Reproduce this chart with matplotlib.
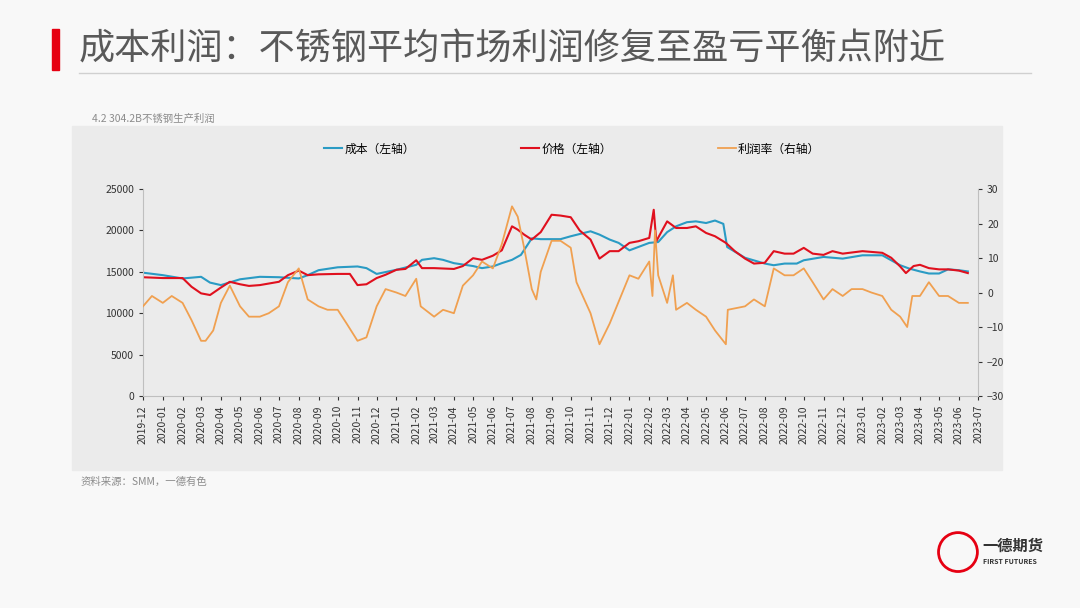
import matplotlib
matplotlib.use("Agg")
import matplotlib.pyplot as plt
import matplotlib.dates as mdates
import pandas as pd
from matplotlib.patches import Rectangle, Ellipse

plt.rcParams["font.family"] = ["Noto Sans CJK SC", "DejaVu Sans"]

cost_dates = ["2019-12-01", "2020-01-01", "2020-02-01", "2020-03-01", "2020-03-15", "2020-04-01",
              "2020-05-01", "2020-06-01", "2020-07-01", "2020-08-01", "2020-08-15", "2020-09-01",
              "2020-10-01", "2020-11-01", "2020-11-15", "2020-12-01", "2021-01-01", "2021-02-01",
              "2021-02-10", "2021-03-01", "2021-03-15", "2021-04-01", "2021-05-01", "2021-05-15",
              "2021-06-01", "2021-06-15", "2021-07-01", "2021-07-15", "2021-08-01", "2021-08-15",
              "2021-09-01", "2021-09-15", "2021-10-01", "2021-11-01", "2021-11-15", "2021-12-01",
              "2021-12-15", "2022-01-01", "2022-02-01", "2022-02-15", "2022-03-01", "2022-03-15",
              "2022-04-01", "2022-04-15", "2022-05-01", "2022-05-15", "2022-05-28", "2022-06-03",
              "2022-07-01", "2022-08-01", "2022-08-15", "2022-09-01", "2022-09-20", "2022-10-01",
              "2022-11-01", "2022-12-01", "2023-01-01", "2023-02-01", "2023-02-15", "2023-03-01",
              "2023-03-15", "2023-04-01", "2023-04-15", "2023-05-01", "2023-05-15", "2023-06-01",
              "2023-06-15"]
cost = [14900, 14600, 14200, 14400, 13700, 13400,
        14100, 14400, 14350, 14200, 14600, 15200,
        15550, 15650, 15450, 14750, 15250, 15850,
        16450, 16650, 16450, 16050, 15700, 15450,
        15650, 16050, 16450, 17050, 19050, 18950,
        18950, 18950, 19300, 19900, 19500, 18900,
        18500, 17600, 18500, 18600, 19800, 20500,
        21000, 21100, 20900, 21200, 20800, 18000,
        16700, 16000, 15800, 16000, 16000, 16400,
        16800, 16600, 17000, 17000, 16400, 15800,
        15400, 15050, 14800, 14800, 15300, 15200,
        15050]

price_dates = ["2019-12-01", "2020-01-01", "2020-02-01", "2020-02-15", "2020-03-01", "2020-03-15",
               "2020-04-01", "2020-04-15", "2020-05-01", "2020-05-15", "2020-06-01", "2020-07-01",
               "2020-07-15", "2020-08-01", "2020-08-15", "2020-09-01", "2020-10-01", "2020-10-20",
               "2020-11-01", "2020-11-15", "2020-12-01", "2020-12-15", "2021-01-01", "2021-01-15",
               "2021-02-01", "2021-02-10", "2021-03-01", "2021-04-01", "2021-04-15", "2021-05-01",
               "2021-05-15", "2021-06-01", "2021-06-15", "2021-07-01", "2021-07-10", "2021-07-20",
               "2021-08-01", "2021-08-15", "2021-09-01", "2021-09-15", "2021-10-01", "2021-10-15",
               "2021-11-01", "2021-11-15", "2021-12-01", "2021-12-15", "2022-01-01", "2022-01-15",
               "2022-02-01", "2022-02-08", "2022-02-12", "2022-03-01", "2022-03-15", "2022-04-01",
               "2022-04-15", "2022-05-01", "2022-05-15", "2022-06-01", "2022-06-15", "2022-07-01",
               "2022-07-15", "2022-08-01", "2022-08-15", "2022-09-01", "2022-09-15", "2022-10-01",
               "2022-10-15", "2022-11-01", "2022-11-15", "2022-12-01", "2023-01-01", "2023-02-01",
               "2023-02-15", "2023-03-01", "2023-03-10", "2023-03-22", "2023-04-01", "2023-04-15",
               "2023-05-01", "2023-05-15", "2023-06-01", "2023-06-15"]
price = [14350, 14250, 14250, 13200, 12400, 12200,
         13100, 13800, 13500, 13300, 13400, 13800,
         14600, 15150, 14600, 14700, 14750, 14750,
         13400, 13500, 14250, 14650, 15250, 15350,
         16400, 15450, 15450, 15350, 15700, 16650,
         16450, 16950, 17600, 20500, 20100, 19500,
         18900, 19800, 21900, 21800, 21600, 20000,
         18900, 16600, 17500, 17500, 18500, 18700,
         19100, 22500, 18700, 21100, 20300, 20300,
         20500, 19700, 19300, 18500, 17500, 16600,
         16000, 16100, 17500, 17200, 17200, 17900,
         17200, 17050, 17500, 17200, 17500, 17300,
         16700, 15650, 14850, 15700, 15850, 15450,
         15300, 15300, 15150, 14850]

rate_dates = ["2019-12-01", "2019-12-15", "2020-01-01", "2020-01-15", "2020-02-01", "2020-02-15",
              "2020-03-01", "2020-03-08", "2020-03-20", "2020-04-01", "2020-04-15", "2020-05-01",
              "2020-05-15", "2020-06-01", "2020-06-15", "2020-07-01", "2020-07-15", "2020-08-01",
              "2020-08-15", "2020-09-01", "2020-09-15", "2020-10-01", "2020-10-15", "2020-11-01",
              "2020-11-15", "2020-12-01", "2020-12-15", "2021-01-01", "2021-01-15", "2021-02-01",
              "2021-02-08", "2021-03-01", "2021-03-15", "2021-04-01", "2021-04-15", "2021-05-01",
              "2021-05-15", "2021-06-01", "2021-06-15", "2021-07-01", "2021-07-10", "2021-07-20",
              "2021-08-01", "2021-08-08", "2021-08-15", "2021-09-01", "2021-09-15", "2021-10-01",
              "2021-10-10", "2021-11-01", "2021-11-15", "2021-12-01", "2022-01-01", "2022-01-15",
              "2022-02-01", "2022-02-06", "2022-02-10", "2022-02-15", "2022-03-01", "2022-03-10",
              "2022-03-15", "2022-04-01", "2022-04-15", "2022-05-01", "2022-05-15", "2022-06-01",
              "2022-06-04", "2022-07-01", "2022-07-15", "2022-08-01", "2022-08-15", "2022-09-01",
              "2022-09-15", "2022-10-01", "2022-10-15", "2022-11-01", "2022-11-15", "2022-12-01",
              "2022-12-15", "2023-01-01", "2023-01-15", "2023-02-01", "2023-02-15", "2023-03-01",
              "2023-03-12", "2023-03-20", "2023-04-01", "2023-04-15", "2023-05-01", "2023-05-15",
              "2023-06-01", "2023-06-15"]
rate = [-4, -1, -3, -1, -3, -8,
        -14, -14, -11, -3, 2, -4,
        -7, -7, -6, -4, 3, 7,
        -2, -4, -5, -5, -9, -14,
        -13, -4, 1, 0, -1, 4,
        -4, -7, -5, -6, 2, 5,
        9, 7, 14, 25, 22, 13,
        1, -2, 6, 15, 15, 13,
        3, -6, -15, -9, 5, 4,
        9, -1, 18, 5, -3, 5,
        -5, -3, -5, -7, -11, -15,
        -5, -4, -2, -4, 7, 5,
        5, 7, 3, -2, 1, -1,
        1, 1, 0, -1, -5, -7,
        -10, -1, -1, 3, -1, -1,
        -3, -3]

month_ticks = pd.date_range("2019-12-01", "2023-07-01", freq="MS")

fig = plt.figure(figsize=(10.8, 6.08), dpi=100)
fig.patch.set_facecolor("#f8f8f8")

# header
fig.add_artist(Rectangle((0.048, 0.885), 0.007, 0.068, transform=fig.transFigure, color="#e60012"))
fig.text(0.073, 0.918, "成本利润：不锈钢平均市场利润修复至盈亏平衡点附近", fontsize=26,
         color="#595959", va="center")
fig.add_artist(plt.Line2D([0.073, 0.955], [0.88, 0.88], transform=fig.transFigure,
                          color="#d0d0d0", lw=1))
fig.text(0.085, 0.805, "4.2 304.2B不锈钢生产利润", fontsize=7.5, color="#8c8c8c", va="center")
fig.add_artist(Rectangle((0.067, 0.227), 0.861, 0.565, transform=fig.transFigure,
                         color="#ebebeb", zorder=-1))
fig.text(0.075, 0.208, "资料来源：SMM，一德有色", fontsize=7.5, color="#8c8c8c", va="center")

# logo
fig.add_artist(Ellipse((0.887, 0.092), 0.036, 0.064, transform=fig.transFigure, fill=False,
                       ec="#e60012", lw=2))
fig.text(0.91, 0.103, "一德期货", fontsize=11, weight="bold", color="#333333", va="center")
fig.text(0.91, 0.077, "FIRST FUTURES", fontsize=5, weight="bold", color="#333333", va="center")

ax = fig.add_axes([0.1324, 0.3487, 0.7732, 0.3403])
ax.set_facecolor("none")
ax2 = ax.twinx()

l1, = ax.plot(pd.to_datetime(cost_dates), cost, color="#2a9bc4", lw=1.5, label="成本（左轴）")
l2, = ax.plot(pd.to_datetime(price_dates), price, color="#e0101e", lw=1.5, label="价格（左轴）")
l3, = ax2.plot(pd.to_datetime(rate_dates), rate, color="#f0a050", lw=1.3, label="利润率（右轴）")

ax.set_ylim(0, 25000)
ax.set_yticks(range(0, 25001, 5000))
ax2.set_ylim(-30, 30)
ax2.set_yticks(range(-30, 31, 10))
ax.set_xlim(month_ticks[0], month_ticks[-1])
ax.set_xticks(month_ticks)
ax.xaxis.set_major_formatter(mdates.DateFormatter("%Y-%m"))
ax.tick_params(axis="x", rotation=90, labelsize=7.5, colors="#333333", length=3)
ax.tick_params(axis="y", labelsize=7.5, colors="#333333", length=3)
ax2.tick_params(axis="y", labelsize=7.5, colors="#333333", length=3)
for a in (ax, ax2):
    a.spines["top"].set_visible(False)
    for s in ("left", "right", "bottom"):
        a.spines[s].set_color("#bfbfbf")
ax.spines["right"].set_visible(False)
ax2.spines["left"].set_visible(False)
ax2.spines["bottom"].set_visible(False)

fig.legend(handles=[l1, l2, l3], loc="center", bbox_to_anchor=(0.53, 0.755), ncol=3,
           frameon=False, fontsize=8.5, columnspacing=9, handlelength=1.5, handletextpad=0.2)

fig.savefig("out.png", dpi=100, facecolor=fig.get_facecolor())
